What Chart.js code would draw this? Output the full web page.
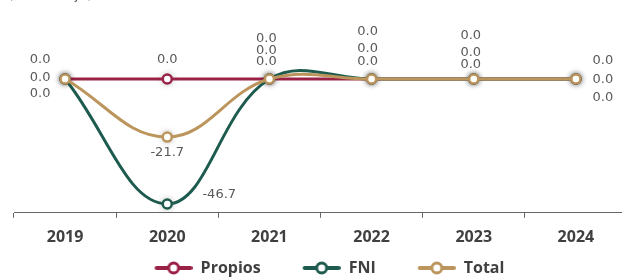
<!DOCTYPE html>
<html>
<head>
<meta charset="utf-8">
<script src="https://cdn.jsdelivr.net/npm/chart.js@4.4.1/dist/chart.umd.min.js"></script>
<style>
  html, body { margin: 0; padding: 0; background: #fff; overflow: hidden; width: 622px; height: 277px; }
  #wrap { position: absolute; left: 0; top: -20px; width: 640px; height: 307px; }
</style>
</head>
<body>
<div id="wrap"><canvas id="c" width="640" height="307"></canvas></div>
<script>
const categories = ['2019', '2020', '2021', '2022', '2023', '2024'];
const propios = [0, 0, 0, 0, 0, 0];
const fni = [0, -46.7, 0, 0, 0, 0];
const total = [0, -21.7, 0, 0, 0, 0];
const seriesNames = ['Propios', 'FNI', 'Total'];
const titleText = '(Porcentaje)';

const colors = { propios: '#9B2247', fni: '#1E5B4F', total: '#BC955C' };
const ICON_MARGIN = 32;
const ICON_W = 38;

function legendIcon(color) {
  const c = document.createElement('canvas');
  c.width = ICON_MARGIN + ICON_W; c.height = 14;
  const g = c.getContext('2d');
  const m = ICON_MARGIN;
  g.strokeStyle = color; g.lineWidth = 4; g.lineCap = 'round';
  g.beginPath(); g.moveTo(m + 2, 7); g.lineTo(m + 36, 7); g.stroke();
  g.beginPath(); g.arc(m + 19, 7, 5, 0, Math.PI * 2);
  g.fillStyle = '#fff'; g.fill(); g.lineWidth = 3; g.stroke();
  return c;
}

// label offsets (dx, dy) per dataset per point, in px
const labelOffsets = [
  [[-25, -19], [0, -19], [-3, -40], [-4, -47], [-3, -43], [27, -18]],
  [[-25, 15], [52, -9], [-3, -17], [-4, -17], [-3, -14], [27, 19]],
  [[-25, -1], [0, 16], [-3, -28], [-4, -30], [-3, -26], [27, 1]]
];

const dataLabelPlugin = {
  id: 'dataLabels',
  afterDatasetsDraw(chart) {
    const ctx = chart.ctx;
    ctx.save();
    ctx.font = '13px "DejaVu Sans"';
    ctx.fillStyle = '#595959';
    ctx.textAlign = 'center';
    ctx.textBaseline = 'middle';
    chart.data.datasets.forEach((ds, di) => {
      const meta = chart.getDatasetMeta(di);
      meta.data.forEach((pt, i) => {
        const off = labelOffsets[di][i];
        ctx.fillText(ds.data[i].toFixed(1), pt.x + off[0], pt.y + off[1]);
      });
    });
    ctx.restore();
  }
};

const titlePlugin = {
  id: 'topTitle',
  afterDraw(chart) {
    const ctx = chart.ctx;
    ctx.save();
    ctx.font = '14px "DejaVu Sans"';
    ctx.fillStyle = '#595959';
    ctx.textAlign = 'left';
    ctx.textBaseline = 'alphabetic';
    ctx.fillText(titleText, 8, 19);
    ctx.restore();
  }
};

// soft shadow under each point (drawn before the dataset itself)
const pointShadowPlugin = {
  id: 'pointShadow',
  beforeDatasetDraw(chart, args) {
    const ctx = chart.ctx;
    ctx.save();
    ctx.shadowColor = 'rgba(0,0,0,0.35)';
    ctx.shadowBlur = 6;
    ctx.fillStyle = '#fff';
    args.meta.data.forEach(pt => {
      ctx.beginPath();
      ctx.arc(pt.x, pt.y, 5, 0, Math.PI * 2);
      ctx.fill();
    });
    ctx.restore();
  }
};

function ds(label, data, color, order) {
  return {
    label, data, order,
    borderColor: color,
    backgroundColor: '#fff',
    borderWidth: 3,
    tension: 0.4,
    pointRadius: 4.5,
    pointBorderWidth: 2.5,
    pointBackgroundColor: '#fff',
    pointBorderColor: color,
    pointStyle: 'circle',
    legendIcon: legendIcon(color)
  };
}

const datasets = [
  ds(seriesNames[0], propios, colors.propios, 2),
  ds(seriesNames[1], fni, colors.fni, 1),
  ds(seriesNames[2], total, colors.total, 0)
];

new Chart(document.getElementById('c'), {
  type: 'line',
  data: { labels: categories, datasets },
  options: {
    responsive: false,
    animation: false,
    devicePixelRatio: 1,
    layout: { padding: { left: 0, right: 13, top: 45.5, bottom: 1 } },
    plugins: {
      tooltip: { enabled: false },
      legend: {
        position: 'bottom',
        labels: {
          usePointStyle: true,
          pointStyleWidth: ICON_MARGIN + ICON_W,
          boxHeight: 16,
          font: { family: '"Open Sans"', size: 16, weight: 'bold' },
          color: '#404040',
          padding: 10,
          generateLabels(chart) {
            return chart.data.datasets.map((d, i) => ({
              text: d.label,
              datasetIndex: i,
              pointStyle: d.legendIcon,
              fillStyle: '#fff',
              strokeStyle: d.borderColor,
              lineWidth: 0,
              hidden: false,
              fontColor: '#404040'
            }));
          }
        }
      }
    },
    scales: {
      x: {
        offset: true,
        grid: { display: true, offset: true, drawOnChartArea: false, tickLength: 5, tickColor: '#666', tickWidth: 1 },
        border: { display: true, color: '#666', width: 1 },
        ticks: { color: '#404040', font: { family: '"Open Sans"', size: 16, weight: 'bold' }, padding: 10 },
        afterFit(scale) { scale.height = 37.2; }
      },
      y: {
        display: true,
        position: 'left',
        min: -50,
        max: 20,
        grid: { display: false },
        border: { display: false },
        ticks: { display: false },
        afterFit(scale) { scale.width = 14; }
      }
    }
  },
  plugins: [pointShadowPlugin, dataLabelPlugin, titlePlugin]
});
</script>
</body>
</html>
